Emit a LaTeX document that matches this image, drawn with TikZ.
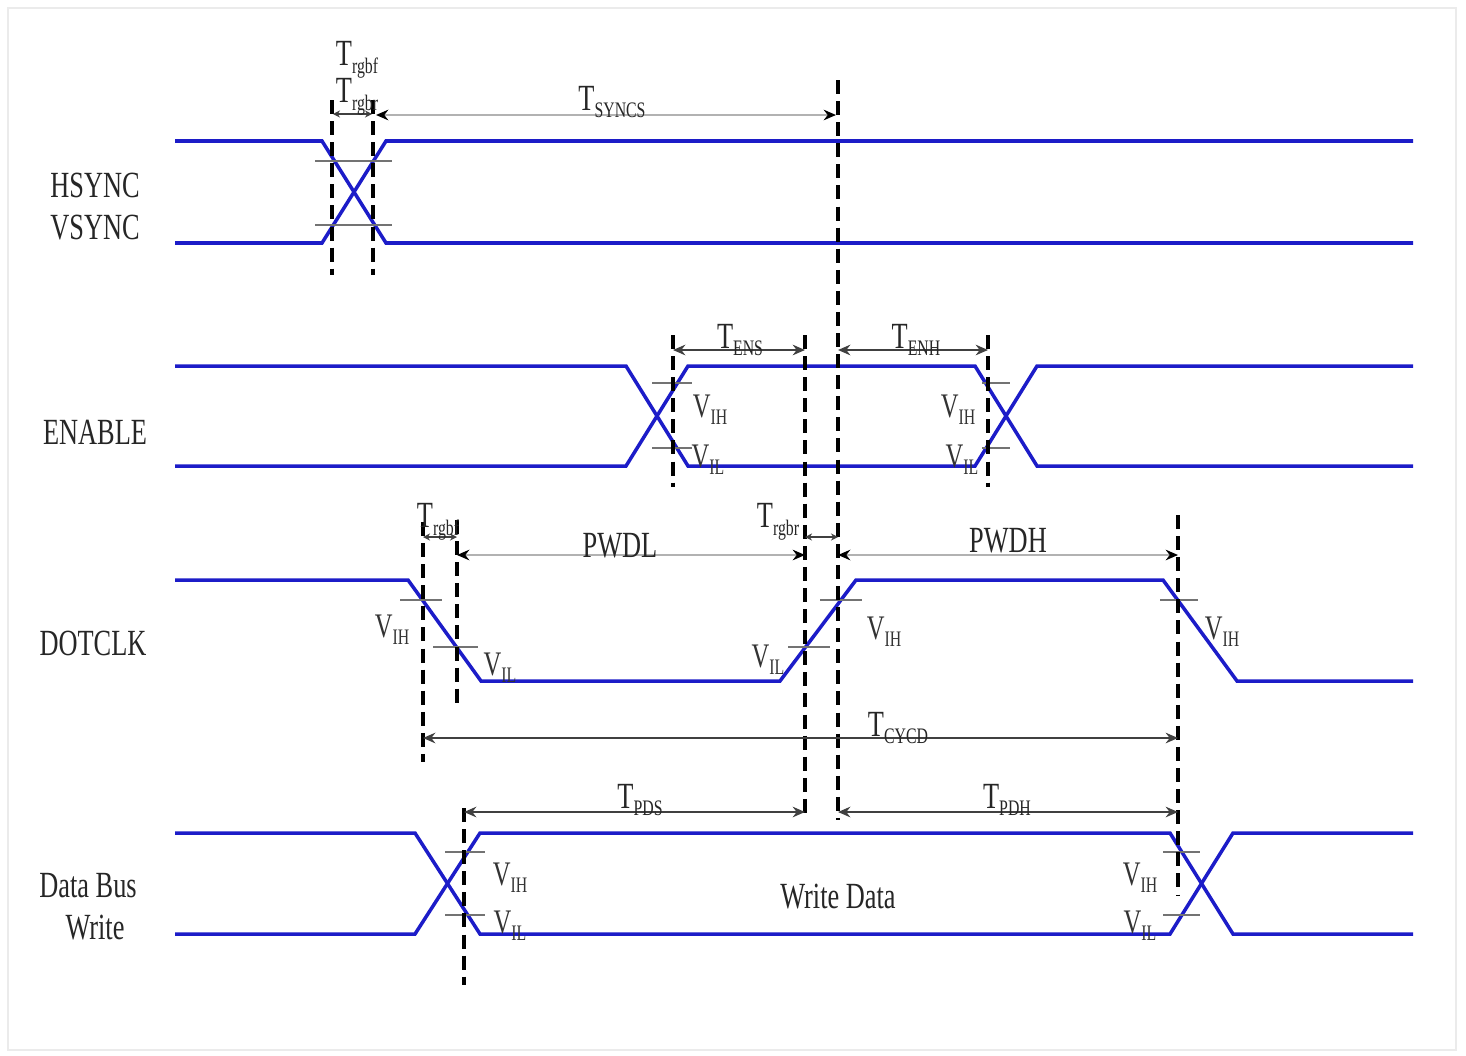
\documentclass[tikz,border=0pt]{standalone}
\usepackage{fontspec}
\setmainfont{Liberation Serif}
\usetikzlibrary{arrows.meta}

\definecolor{sigblue}{RGB}{28,28,200}
\newcommand{\tallt}[1]{\scalebox{1}[1.4]{#1}}
\newcommand{\subtx}[1]{\raisebox{-0.45ex}{\fontsize{9}{10}\selectfont #1}}

\begin{document}
\begin{tikzpicture}[x=0.02cm, y=-0.02cm, >={Stealth[length=7pt,width=6pt]}, thick]
        \tikzstyle{sig}=[draw=sigblue, line width=2pt]
        \tikzstyle{guide}=[black, dash pattern=on 8pt off 4pt, line width=1.9pt]
        \tikzstyle{vref}=[black!55, line width=0.7pt]
        \tikzstyle{dim}=[<->, black!75, line width=1.2pt]
        \tikzstyle{faint}=[black!30, line width=1.2pt, arrows={Stealth[black,length=7pt,width=6pt]-Stealth[black,length=7pt,width=6pt]}]
        \tikzstyle{lbl}=[font=\fontsize{15}{18}\selectfont, text=black!85, inner sep=0pt]
        \tikzstyle{vl}=[font=\fontsize{14}{16}\selectfont, text=black!80, inner sep=0pt]

        \useasboundingbox (0,0) rectangle (1466,1055);
        \draw[black!8, line width=0.8pt] (8,8) rectangle (1456,1050);

        % Signal names
        \node[lbl] (hs) at (95,185) {\tallt{HSYNC}};
        \node[lbl] (vs) at (95,228) {\tallt{VSYNC}};
        \node[lbl] (en) at (95,432) {\tallt{ENABLE}};
        \node[lbl] (dc) at (93,643) {\tallt{DOTCLK}};
        \node[lbl] (db) at (88,886) {\tallt{Data Bus}};
        \node[lbl] (wr) at (95,928) {\tallt{Write}};

        % Waveforms
        \draw[sig] (175,141) -- (322,141) -- (386,243) -- (1413,243);
        \draw[sig] (175,243) -- (322,243) -- (386,141) -- (1413,141);
        \draw[sig] (175,366) -- (626,366) -- (688,466) -- (975,466) -- (1037,366) -- (1413,366);
        \draw[sig] (175,466) -- (626,466) -- (688,366) -- (975,366) -- (1037,466) -- (1413,466);
        \draw[sig] (175,580) -- (408,580) -- (481,681) -- (780,681) -- (856,580) -- (1163,580) -- (1237,681) -- (1413,681);
        \draw[sig] (175,833) -- (415,833) -- (480,934) -- (1170,934) -- (1233,833) -- (1413,833);
        \draw[sig] (175,934) -- (415,934) -- (480,833) -- (1170,833) -- (1233,934) -- (1413,934);

        % Threshold ticks
        \draw[vref] (315,161) -- (392,161);
        \draw[vref] (315,225) -- (392,225);
        \draw[vref] (652,383) -- (692,383);
        \draw[vref] (652,448) -- (692,448);
        \draw[vref] (982,383) -- (1010,383);
        \draw[vref] (982,448) -- (1010,448);
        \draw[vref] (400,600) -- (442,600);
        \draw[vref] (433,647) -- (478,647);
        \draw[vref] (788,647) -- (830,647);
        \draw[vref] (820,600) -- (862,600);
        \draw[vref] (1160,600) -- (1198,600);
        \draw[vref] (445,852) -- (485,852);
        \draw[vref] (445,915) -- (485,915);
        \draw[vref] (1163,852) -- (1200,852);
        \draw[vref] (1163,915) -- (1200,915);

        % Guide lines
        \draw[guide] (332,100) -- (332,275);
        \draw[guide] (373,100) -- (373,275);
        \draw[guide] (838,80) -- (838,820);
        \draw[guide] (673,335) -- (673,487);
        \draw[guide] (805,335) -- (805,818);
        \draw[guide] (988,335) -- (988,487);
        \draw[guide] (423,522) -- (423,762);
        \draw[guide, line width=2.8pt] (457,520) -- (457,707);
        \draw[guide] (1178,515) -- (1178,895);
        \draw[guide, line width=2.8pt] (464,808) -- (464,985);

        % Timing marks
        \coordinate (rf1) at (333,114);
        \coordinate (rf2) at (372,114);
        \coordinate (sy1) at (376,115);
        \coordinate (sy2) at (836,115);
        \coordinate (es1) at (673,350);
        \coordinate (es2) at (805,350);
        \coordinate (eh1) at (838,350);
        \coordinate (eh2) at (988,350);
        \coordinate (cf1) at (423,537);
        \coordinate (cf2) at (457,537);
        \coordinate (cr1) at (805,537);
        \coordinate (cr2) at (838,537);
        \coordinate (pl1) at (457,555);
        \coordinate (pl2) at (805,555);
        \coordinate (ph1) at (838,555);
        \coordinate (ph2) at (1178,555);
        \coordinate (cy1) at (423,738);
        \coordinate (cy2) at (1178,738);
        \coordinate (ps1) at (464,812);
        \coordinate (ps2) at (805,812);
        \coordinate (pd1) at (838,812);
        \coordinate (pd2) at (1178,812);

        \draw[<->, black!75, line width=0.8pt, >={Stealth[length=4pt,width=4pt]}] (rf1) -- (rf2);
        \draw[faint] (sy1) -- (sy2);
        \draw[dim] (es1) -- (es2);
        \draw[dim] (eh1) -- (eh2);
        \draw[<->, black!75, line width=0.8pt, >={Stealth[length=4pt,width=4pt]}] (cf1) -- (cf2);
        \draw[<->, black!75, line width=0.8pt, >={Stealth[length=4pt,width=4pt]}] (cr1) -- (cr2);
        \draw[faint] (pl1) -- (pl2);
        \draw[faint] (ph1) -- (ph2);
        \draw[dim] (cy1) -- (cy2);
        \draw[dim] (ps1) -- (ps2);
        \draw[dim] (pd1) -- (pd2);

        % Timing labels
        \node[lbl] (trf) at (357,60) {\tallt{T\subtx{rgbf}}};
        \node[lbl] (trr) at (357,97) {\tallt{T\subtx{rgbr}}};
        \node[lbl] (tsy) at (612,102) {\tallt{T\subtx{SYNCS}}};
        \node[lbl] (tes) at (740,340) {\tallt{T\subtx{ENS}}};
        \node[lbl] (teh) at (916,340) {\tallt{T\subtx{ENH}}};
        \node[lbl] (tcf) at (438,522) {\tallt{T\subtx{rgbf}}};
        \node[lbl] (tcr) at (778,522) {\tallt{T\subtx{rgbr}}};
        \node[lbl] (pwl) at (620,546) {\tallt{PWDL}};
        \node[lbl] (pwh) at (1008,541) {\tallt{PWDH}};
        \node[lbl] (tcy) at (898,728) {\tallt{T\subtx{CYCD}}};
        \node[lbl] (tps) at (640,800) {\tallt{T\subtx{PDS}}};
        \node[lbl] (tpd) at (1007,800) {\tallt{T\subtx{PDH}}};
        \node[lbl] (wd) at (838,897) {\tallt{Write Data}};

        % Level labels
        \node[vl] (e1h) at (710,410) {\tallt{V\subtx{IH}}};
        \node[vl] (e1l) at (708,460) {\tallt{V\subtx{IL}}};
        \node[vl] (e2h) at (958,410) {\tallt{V\subtx{IH}}};
        \node[vl] (e2l) at (962,460) {\tallt{V\subtx{IL}}};
        \node[vl] (c1h) at (392,630) {\tallt{V\subtx{IH}}};
        \node[vl] (c1l) at (500,668) {\tallt{V\subtx{IL}}};
        \node[vl] (c2l) at (768,660) {\tallt{V\subtx{IL}}};
        \node[vl] (c2h) at (884,632) {\tallt{V\subtx{IH}}};
        \node[vl] (c3h) at (1222,632) {\tallt{V\subtx{IH}}};
        \node[vl] (d1h) at (510,878) {\tallt{V\subtx{IH}}};
        \node[vl] (d1l) at (510,926) {\tallt{V\subtx{IL}}};
        \node[vl] (d2h) at (1140,878) {\tallt{V\subtx{IH}}};
        \node[vl] (d2l) at (1140,926) {\tallt{V\subtx{IL}}};
\end{tikzpicture}
\end{document}
